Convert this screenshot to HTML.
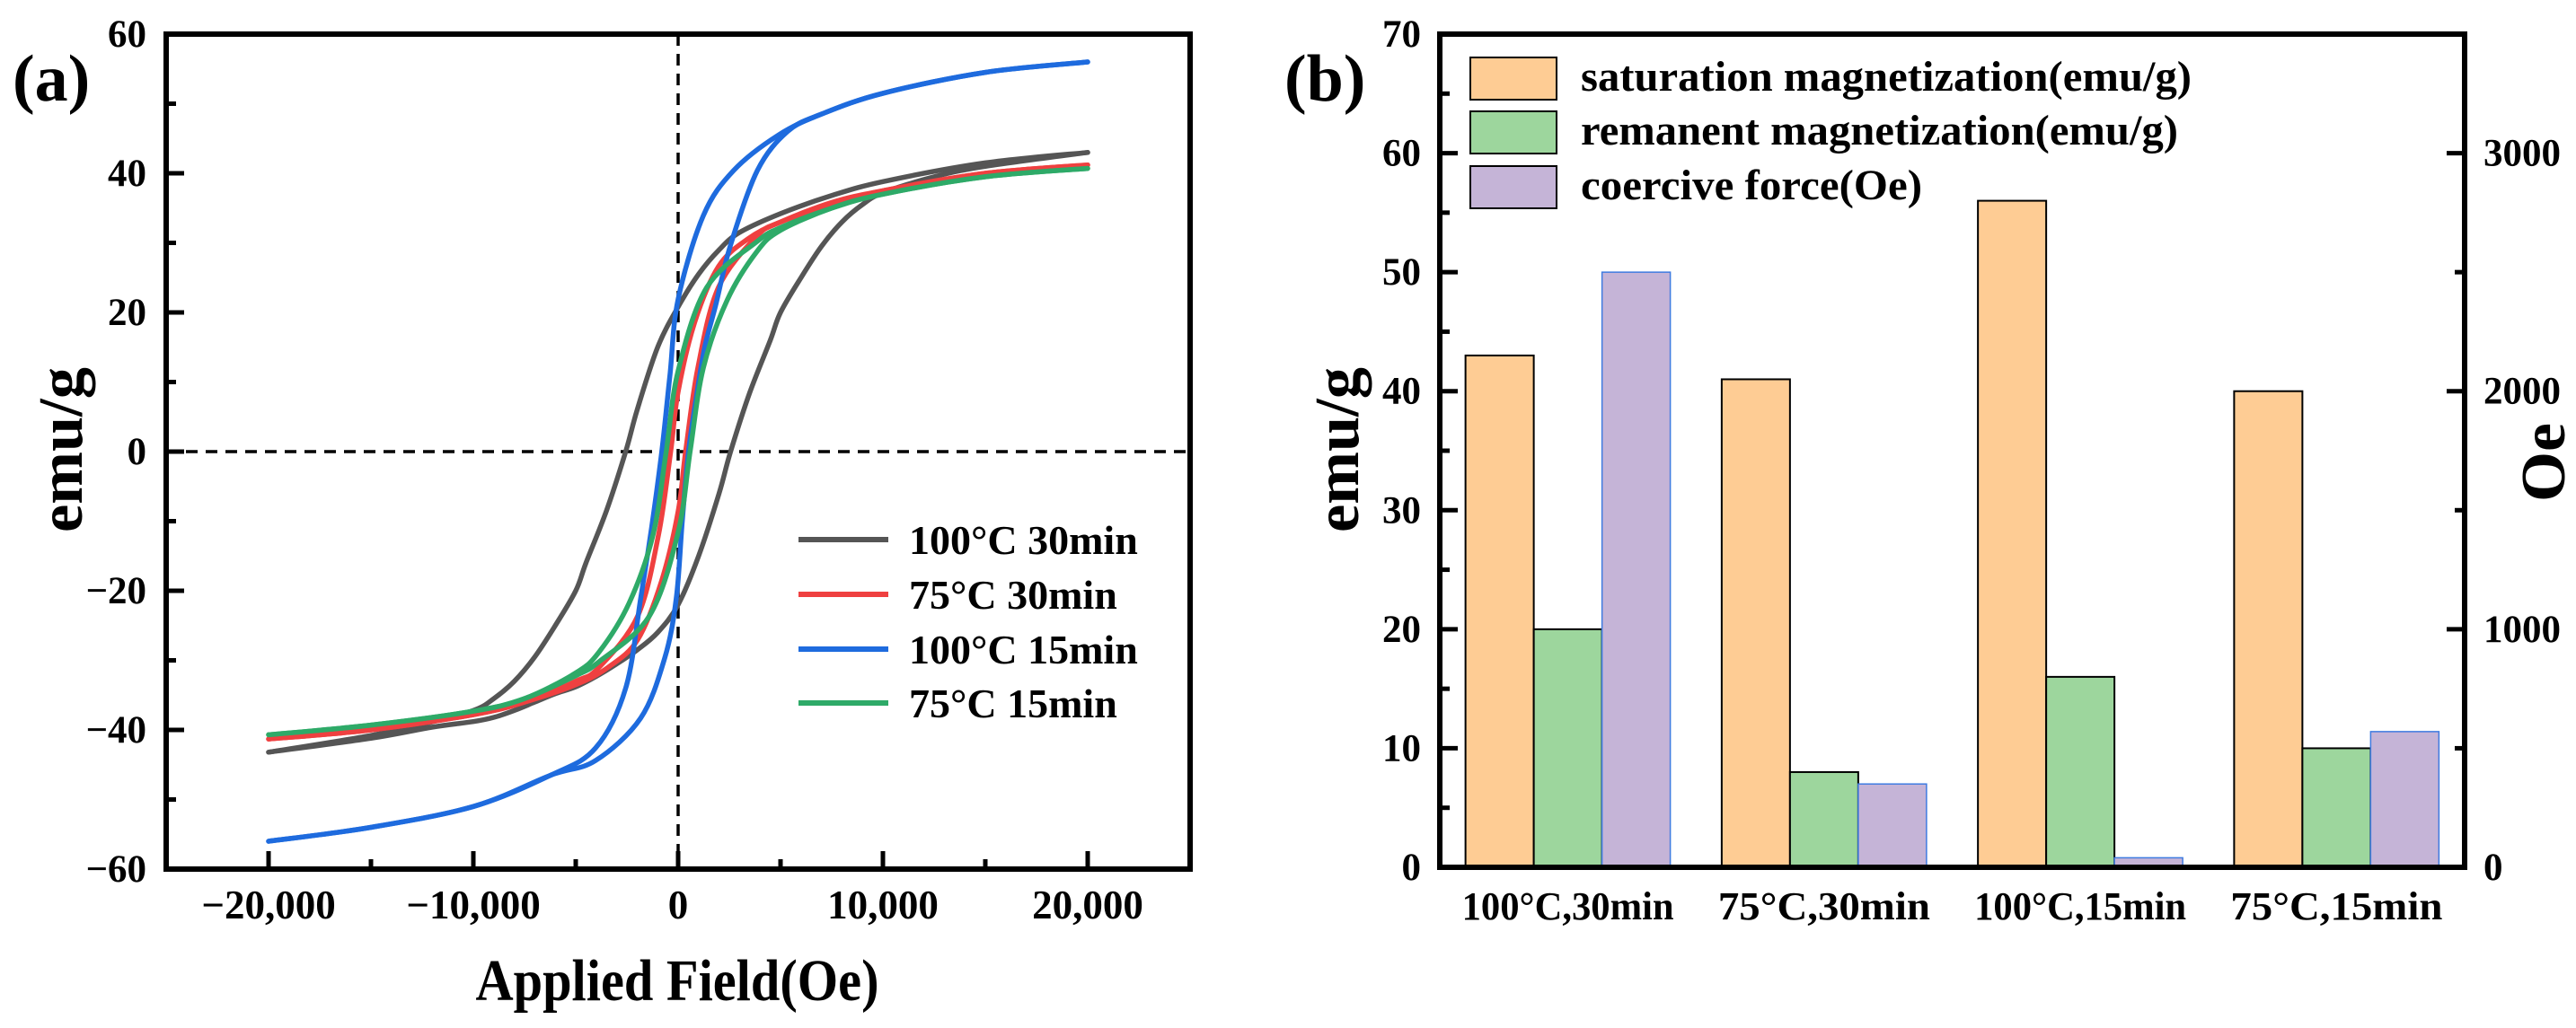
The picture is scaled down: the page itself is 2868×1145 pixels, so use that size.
<!DOCTYPE html>
<html><head><meta charset="utf-8"><style>
html,body{margin:0;padding:0;background:#fff;}
svg{display:block;font-family:"Liberation Serif",serif;font-weight:bold;}
</style></head><body>
<svg id="fig" width="2868" height="1145" viewBox="0 0 2868 1145" xmlns="http://www.w3.org/2000/svg">
<rect x="0" y="0" width="2868" height="1145" fill="#fff"/>
<g id="pa"></g>
<g id="pb"></g>
</svg>
<script>
// ---------- Panel (a) data ----------
const seriesNames = ["100°C 30min","75°C 30min","100°C 15min","75°C 15min"];
const blackUpH = [20000,15000,10000,7500,5000,3000,2000,1000,0,-1000,-2000,-2560,-3500,-4500,-5000,-6000,-7000,-8000,-9000,-10000,-12500,-15000,-20000];
const blackUpM = [43,41.5,38.8,36.8,34.2,31.5,29,25.5,20.8,15,6,0,-8.5,-16,-20,-25,-29.5,-33,-35.5,-37.2,-39.2,-40.8,-43.2];
const blackDnH = [-20000,-15000,-12000,-10000,-9000,-8000,-7000,-6000,-5000,-4000,-3000,-2000,-1000,0,1000,2000,2560,3500,4500,5000,6000,7000,8000,9000,10000,12500,15000,20000];
const blackDnM = [-43.2,-41.2,-39.6,-38.8,-38.2,-37.2,-36,-34.8,-33.8,-32.3,-30.5,-28.5,-26,-22,-15,-6,0,8.5,16,20,25,29.5,33,35.5,37.2,39.5,41,43];
const redUpH = [20000,15000,10000,7500,5000,3420,1970,800,0,-365,-960,-1970,-3860,-5000,-7500,-10000,-15000,-20000];
const redUpM = [41.2,40,37.5,35.5,33,30.6,26.6,18.5,8.6,0,-12,-23.6,-31,-33,-36,-37.8,-40,-41.3];
const redDnH = [-20000,-15000,-10000,-7500,-5000,-3420,-1970,-800,0,365,960,1970,3860,5000,7500,10000,15000,20000];
const redDnM = [-41.3,-40,-37.8,-36,-33.5,-31,-27,-18.5,-8.6,0,12,23.6,31,33,35.8,37.5,40,41.2];
const blueUpH = [20000,15000,10000,7000,4900,2710,1230,0,-400,-800,-1300,-1830,-2560,-4030,-6220,-10000,-15000,-20000];
const blueUpM = [56,54.5,51.5,48.5,45.5,40.4,33.9,21.9,11,0,-11,-21.1,-34,-42.6,-46.5,-51,-54,-56];
const blueDnH = [-20000,-15000,-10000,-6220,-4030,-1830,-660,-90,200,510,900,1300,1830,2560,3870,5340,7000,10000,15000,20000];
const blueDnM = [-56,-54,-51,-46.5,-44.4,-38.3,-29.7,-21.1,-10,0,8,15,21,29.7,40.4,46,48.5,51.5,54.5,56];
const greenUpH = [20000,15000,10000,7500,5000,3860,1400,0,-585,-1230,-2400,-3860,-5000,-7500,-10000,-15000,-20000];
const greenUpM = [40.7,39.5,37,35,32.2,30.2,23.6,11.6,0,-12,-21.8,-28.8,-31.8,-35.5,-37.3,-39.3,-40.7];
const greenDnH = [-20000,-15000,-10000,-7500,-5000,-3860,-1400,0,585,1230,2400,3860,5000,7500,10000,15000,20000];
const greenDnM = [-40.7,-39.3,-37.3,-35.5,-32.2,-30.2,-23.6,-11.6,0,12,21.8,28.8,31.8,35,37,39.5,40.7];
const xTicksA = [-20000,-10000,0,10000,20000];
const xTickLabelsA = ["\u221220,000","\u221210,000","0","10,000","20,000"];
const yTicksA = [-60,-40,-20,0,20,40,60];
const yTickLabelsA = ["\u221260","\u221240","\u221220","0","20","40","60"];

// ---------- Panel (b) data ----------
const categories = ["100°C,30min","75°C,30min","100°C,15min","75°C,15min"];
const saturation = [43,41,56,40];
const remanent = [20,8,16,10];
const coercive = [2500,350,40,570];
const yTicksB = [0,10,20,30,40,50,60,70];
const yTicksBR = [0,1000,2000,3000];

const NS = "http://www.w3.org/2000/svg";
function mk(parent, tag, attrs, text){
  const e = document.createElementNS(NS, tag);
  for (const k in attrs) e.setAttribute(k, attrs[k]);
  if (text !== undefined) e.textContent = text;
  parent.appendChild(e);
  return e;
}
function smooth(pts){
  let d = "M" + pts[0][0].toFixed(1) + "," + pts[0][1].toFixed(1);
  for (let i = 0; i < pts.length - 1; i++){
    const p0 = pts[Math.max(0,i-1)], p1 = pts[i], p2 = pts[i+1], p3 = pts[Math.min(pts.length-1,i+2)];
    const c1x = p1[0] + (p2[0]-p0[0])/6, c1y = p1[1] + (p2[1]-p0[1])/6;
    const c2x = p2[0] - (p3[0]-p1[0])/6, c2y = p2[1] - (p3[1]-p1[1])/6;
    d += " C" + c1x.toFixed(1) + "," + c1y.toFixed(1) + " " + c2x.toFixed(1) + "," + c2y.toFixed(1) + " " + p2[0].toFixed(1) + "," + p2[1].toFixed(1);
  }
  return d;
}

// ---------- Panel (a) ----------
const pa = document.getElementById("pa");
const AL = 185, AR = 1325, AT = 38, AB = 968;
const xA = h => AL + (h + 25000) / 50000 * (AR - AL);
const yA = m => AB - (m + 60) / 120 * (AB - AT);

let t;
t = mk(pa, "text", {x:14, y:112, "font-size":74}, "(a)");



let dl = mk(pa, "line", {x1:xA(0), y1:AT, x2:xA(0), y2:AB, stroke:"#000", "stroke-width":3.5, "stroke-dasharray":"13,9"});


dl = mk(pa, "line", {x1:AL, y1:yA(0), x2:AR, y2:yA(0), stroke:"#000", "stroke-width":3.5, "stroke-dasharray":"13,9"});



const curves = [
  {name:"100c-30min", color:"#555555", up:[blackUpH,blackUpM], dn:[blackDnH,blackDnM]},
  {name:"75c-30min", color:"#EF4040", up:[redUpH,redUpM], dn:[redDnH,redDnM]},
  {name:"100c-15min", color:"#1E6BDE", up:[blueUpH,blueUpM], dn:[blueDnH,blueDnM]},
  {name:"75c-15min", color:"#2EAA68", up:[greenUpH,greenUpM], dn:[greenDnH,greenDnM]}
];
curves.forEach(c => {
  ["up","dn"].forEach(br => {
    const H = c[br][0], M = c[br][1];
    const pts = H.map((h,i) => [xA(h), yA(M[i])]);
    const p = mk(pa, "path", {d:smooth(pts), fill:"none", stroke:c.color, "stroke-width":5.5, "stroke-linejoin":"round", "stroke-linecap":"round"});
    
    
  });
});

let fr = mk(pa, "rect", {x:AL, y:AT, width:AR-AL, height:AB-AT, fill:"none", stroke:"#000", "stroke-width":6});



for (let h = -25000; h <= 25000; h += 5000){
  const major = h % 10000 === 0;
  const tk = mk(pa, "line", {x1:xA(h), y1:AB, x2:xA(h), y2:AB - (major ? 20 : 11), stroke:"#000", "stroke-width":5});
  
  
}
xTicksA.forEach((h,i) => {
  const lb = mk(pa, "text", {x:xA(h), y:1023, "font-size":45, "text-anchor":"middle"}, xTickLabelsA[i]);
  
  
});
for (let m = -60; m <= 60; m += 10){
  const major = m % 20 === 0;
  const tk = mk(pa, "line", {x1:AL, y1:yA(m), x2:AL + (major ? 20 : 11), y2:yA(m), stroke:"#000", "stroke-width":5});
  
  
}
yTicksA.forEach((m,i) => {
  const lb = mk(pa, "text", {x:163, y:yA(m) + 14, "font-size":43, "text-anchor":"end"}, yTickLabelsA[i]);
  
  
});
t = mk(pa, "text", {x:754, y:1114, "font-size":66, "text-anchor":"middle", textLength:449, lengthAdjust:"spacingAndGlyphs"}, "Applied Field(Oe)");


t = mk(pa, "text", {x:0, y:0, "font-size":70, "text-anchor":"middle", textLength:184, lengthAdjust:"spacingAndGlyphs", transform:"translate(91,501) rotate(-90)"}, "emu/g");



const legY = [601, 662, 723, 783];
curves.forEach((c,i) => {
  const g = mk(pa, "g", {});
  
  
  mk(g, "line", {x1:889, y1:legY[i], x2:989, y2:legY[i], stroke:c.color, "stroke-width":6});
  mk(g, "text", {x:1012, y:legY[i] + 16, "font-size":46}, seriesNames[i]);
});

// ---------- Panel (b) ----------
const pb = document.getElementById("pb");
const BL = 1603, BR = 2744, BT = 38, BB = 966;
const yB = v => BB - v / 70 * (BB - BT);
const yBR = v => BB - v / 3500 * (BB - BT);
const slot = (BR - BL) / 4;
const barW = 76;

t = mk(pb, "text", {x:1430, y:112, "font-size":74}, "(b)");



categories.forEach((cat,i) => {
  const cx = BL + slot * (i + 0.5);
  let r = mk(pb, "rect", {x:cx - 1.5*barW, y:yB(saturation[i]), width:barW, height:BB - yB(saturation[i]), fill:"#FECC94", stroke:"#000", "stroke-width":2});
  
  
  r = mk(pb, "rect", {x:cx - 0.5*barW, y:yB(remanent[i]), width:barW, height:BB - yB(remanent[i]), fill:"#9DD69D", stroke:"#000", "stroke-width":2});
  
  
  r = mk(pb, "rect", {x:cx + 0.5*barW, y:yBR(coercive[i]), width:barW, height:BB - yBR(coercive[i]), fill:"#C5B4D7", stroke:"#3F7BE0", "stroke-width":1.5});
  
  
  const lb = mk(pb, "text", {x:cx, y:1024, "font-size":44, "text-anchor":"middle", textLength:236, lengthAdjust:"spacingAndGlyphs"}, cat);
  
  
});

fr = mk(pb, "rect", {x:BL, y:BT, width:BR-BL, height:BB-BT, fill:"none", stroke:"#000", "stroke-width":6});



for (let v = 0; v <= 70; v += 5){
  const major = v % 10 === 0;
  const tk = mk(pb, "line", {x1:BL, y1:yB(v), x2:BL + (major ? 20 : 11), y2:yB(v), stroke:"#000", "stroke-width":5});
  
  
}
yTicksB.forEach(v => {
  const lb = mk(pb, "text", {x:1582, y:yB(v) + 14, "font-size":43, "text-anchor":"end"}, String(v));
  
  
});
for (let v = 0; v <= 3500; v += 500){
  const major = v % 1000 === 0;
  const tk = mk(pb, "line", {x1:BR, y1:yBR(v), x2:BR - (major ? 20 : 11), y2:yBR(v), stroke:"#000", "stroke-width":5});
  
  
}
yTicksBR.forEach(v => {
  const lb = mk(pb, "text", {x:2765, y:yBR(v) + 14, "font-size":43}, String(v));
  
  
});
t = mk(pb, "text", {x:0, y:0, "font-size":70, "text-anchor":"middle", textLength:184, lengthAdjust:"spacingAndGlyphs", transform:"translate(1512,501) rotate(-90)"}, "emu/g");


t = mk(pb, "text", {x:0, y:0, "font-size":70, "text-anchor":"middle", textLength:88, lengthAdjust:"spacingAndGlyphs", transform:"translate(2855,515) rotate(-90)"}, "Oe");



const legNames = ["saturation magnetization(emu/g)","remanent magnetization(emu/g)","coercive force(Oe)"];
const legFills = ["#FECC94","#9DD69D","#C5B4D7"];
const legBoxY = [64, 124, 185];
const legLens = [680, 665, 380];
legNames.forEach((n,i) => {
  const g = mk(pb, "g", {});
  
  
  mk(g, "rect", {x:1637, y:legBoxY[i], width:96, height:47, fill:legFills[i], stroke:"#000", "stroke-width":2});
  mk(g, "text", {x:1760, y:legBoxY[i] + 37, "font-size":48, textLength:legLens[i], lengthAdjust:"spacingAndGlyphs"}, n);
});
</script>
</body></html>
